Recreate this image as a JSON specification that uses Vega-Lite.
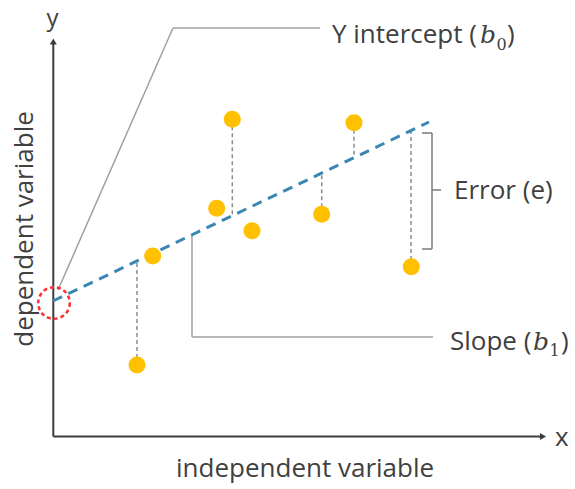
{
  "$schema": "https://vega.github.io/schema/vega-lite/v6.json",
  "width": 575,
  "height": 489,
  "padding": 0,
  "autosize": {"type": "none"},
  "background": "white",
  "config": {"view": {"stroke": null}},
  "encoding": {
    "x": {"field": "x", "type": "quantitative", "scale": {"domain": [0, 575], "nice": false, "zero": false}, "axis": null},
    "y": {"field": "y", "type": "quantitative", "scale": {"domain": [0, 489], "nice": false, "zero": false}, "axis": null}
  },
  "layer": [
    {
      "data": {"values": [
        {"x": 137, "y": 124, "x2": 137, "y2": 227},
        {"x": 232.3, "y": 369.7, "x2": 232.3, "y2": 273.3},
        {"x": 321.7, "y": 274.7, "x2": 321.7, "y2": 315.9},
        {"x": 354, "y": 366.3, "x2": 354, "y2": 331.3},
        {"x": 411, "y": 222, "x2": 411, "y2": 358.4}
      ]},
      "mark": {"type": "rule", "stroke": "#8c8c8c", "strokeWidth": 1.5, "strokeDash": [4, 3]},
      "encoding": {"x2": {"field": "x2"}, "y2": {"field": "y2"}}
    },
    {
      "data": {"values": [
        {"x": 58, "y": 199, "x2": 173, "y2": 461},
        {"x": 173, "y": 461, "x2": 320, "y2": 461},
        {"x": 192, "y": 254, "x2": 192, "y2": 152},
        {"x": 192, "y": 152, "x2": 433, "y2": 152}
      ]},
      "mark": {"type": "rule", "stroke": "#a0a0a0", "strokeWidth": 1.5},
      "encoding": {"x2": {"field": "x2"}, "y2": {"field": "y2"}}
    },
    {
      "data": {"values": [
        {"x": 422, "y": 356, "x2": 432, "y2": 356},
        {"x": 432, "y": 356, "x2": 432, "y2": 240},
        {"x": 422, "y": 240, "x2": 432, "y2": 240},
        {"x": 432, "y": 299, "x2": 441, "y2": 299}
      ]},
      "mark": {"type": "rule", "stroke": "#7a7a7a", "strokeWidth": 1.5},
      "encoding": {"x2": {"field": "x2"}, "y2": {"field": "y2"}}
    },
    {
      "data": {"values": [
        {"x": 53.3, "y": 52.5, "x2": 53.3, "y2": 445},
        {"x": 53.3, "y": 52.5, "x2": 541, "y2": 52.5}
      ]},
      "mark": {"type": "rule", "stroke": "#3c3c3c", "strokeWidth": 2},
      "encoding": {"x2": {"field": "x2"}, "y2": {"field": "y2"}}
    },
    {
      "data": {"values": [{"x": 53.3, "y": 447.5}]},
      "mark": {"type": "point", "shape": "triangle-up", "filled": true, "color": "#3c3c3c", "opacity": 1, "size": 50}
    },
    {
      "data": {"values": [{"x": 543, "y": 52.5}]},
      "mark": {"type": "point", "shape": "triangle-right", "filled": true, "color": "#3c3c3c", "opacity": 1, "size": 50}
    },
    {
      "data": {"values": [{"x": 53, "y": 188, "x2": 429, "y2": 367}]},
      "mark": {"type": "rule", "stroke": "#3b87b3", "strokeWidth": 3, "strokeDash": [10, 7]},
      "encoding": {"x2": {"field": "x2"}, "y2": {"field": "y2"}}
    },
    {
      "data": {"values": [{"x": 54, "y": 186}]},
      "mark": {"type": "point", "shape": "circle", "filled": false, "stroke": "#ff3030", "strokeWidth": 2.5, "strokeDash": [4, 3], "opacity": 1, "size": 1000}
    },
    {
      "data": {"values": [
        {"x": 137, "y": 124},
        {"x": 152.7, "y": 233},
        {"x": 232.3, "y": 369.7},
        {"x": 216.7, "y": 280.7},
        {"x": 252, "y": 258.3},
        {"x": 321.7, "y": 274.7},
        {"x": 354, "y": 366.3},
        {"x": 411.3, "y": 222.3}
      ]},
      "mark": {"type": "point", "shape": "circle", "filled": true, "color": "#ffc000", "opacity": 1, "size": 290}
    },
    {
      "data": {"values": [{"x": 46.5, "y": 463, "label": "y"}]},
      "mark": {"type": "text", "font": "Open Sans", "fontSize": 24, "color": "#404040", "align": "left", "baseline": "alphabetic"},
      "encoding": {"text": {"field": "label"}}
    },
    {
      "data": {"values": [
        {"x": 555, "y": 43, "label": "x"},
        {"x": 332, "y": 446, "label": "Y intercept ("},
        {"x": 507, "y": 446, "label": ")"},
        {"x": 454, "y": 290, "label": "Error (e)"},
        {"x": 450, "y": 139, "label": "Slope ("},
        {"x": 561, "y": 139, "label": ")"},
        {"x": 176, "y": 12, "label": "independent variable"}
      ]},
      "mark": {"type": "text", "font": "Open Sans", "fontSize": 26, "color": "#404040", "align": "left", "baseline": "alphabetic"},
      "encoding": {"text": {"field": "label"}}
    },
    {
      "data": {"values": [{"x": 33, "y": 260, "label": "dependent variable"}]},
      "mark": {"type": "text", "font": "Open Sans", "fontSize": 26, "color": "#404040", "align": "center", "baseline": "alphabetic", "angle": 270},
      "encoding": {"text": {"field": "label"}}
    },
    {
      "data": {"values": [
        {"x": 480, "y": 446, "label": "b"},
        {"x": 533, "y": 139, "label": "b"}
      ]},
      "mark": {"type": "text", "font": "DejaVu Serif", "fontStyle": "italic", "fontSize": 25, "color": "#404040", "align": "left", "baseline": "alphabetic"},
      "encoding": {"text": {"field": "label"}}
    },
    {
      "data": {"values": [
        {"x": 496.5, "y": 439, "label": "0"},
        {"x": 549.5, "y": 133, "label": "1"}
      ]},
      "mark": {"type": "text", "font": "DejaVu Serif", "fontSize": 16, "color": "#404040", "align": "left", "baseline": "alphabetic"},
      "encoding": {"text": {"field": "label"}}
    }
  ]
}
